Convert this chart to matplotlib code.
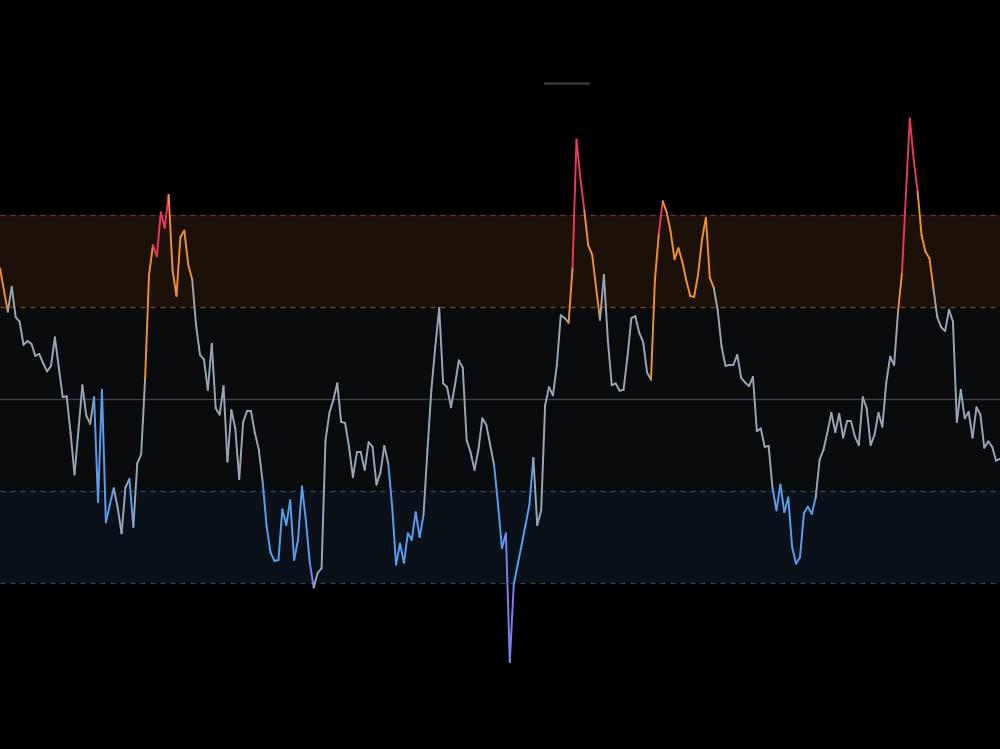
import numpy as np
import matplotlib
matplotlib.use('Agg')
import matplotlib.pyplot as plt
from matplotlib.collections import LineCollection
from matplotlib.lines import Line2D

# ------------------------------------------------------------------
# Data: oscillator values (one per bar)
# ------------------------------------------------------------------
values = [
    64.2, 61.8, 59.5, 62.2, 58.9, 58.4, 55.9, 56.3, 56.0, 54.7,
    54.9, 53.9, 53.0, 53.6, 56.7, 53.4, 50.2, 50.3, 46.3, 41.8,
    46.6, 51.5, 48.2, 47.3, 50.2, 38.8, 51.0, 36.6, 38.5, 40.3,
    38.2, 35.4, 40.4, 41.3, 36.1, 43.0, 44.0, 52.2, 63.5, 66.7,
    65.5, 70.3, 68.6, 72.2, 64.0, 61.2, 67.6, 68.3, 64.6, 63.0,
    58.0, 54.8, 54.3, 51.0, 56.0, 49.0, 48.3, 51.4, 43.2, 48.8,
    46.8, 41.3, 47.5, 48.7, 48.7, 46.3, 44.5, 40.9, 36.1, 33.3,
    32.4, 32.5, 38.0, 36.3, 39.0, 32.5, 34.7, 40.5, 36.8, 32.2,
    29.5, 31.1, 31.6, 45.5, 48.5, 49.9, 51.7, 47.5, 47.4, 44.8,
    41.5, 44.2, 44.2, 42.3, 45.3, 44.8, 40.7, 42.0, 44.9, 43.0,
    38.3, 32.0, 34.3, 32.2, 35.4, 34.7, 37.7, 35.0, 37.4, 44.5,
    51.0, 55.7, 59.9, 51.7, 51.3, 49.1, 51.5, 54.2, 53.4, 45.5,
    44.2, 42.3, 44.5, 47.9, 47.2, 45.0, 42.8, 38.5, 33.8, 35.4,
    21.4, 29.8, 32.0, 34.1, 36.3, 38.5, 43.6, 36.3, 37.9, 49.3,
    51.3, 50.4, 53.7, 59.1, 58.8, 58.3, 64.3, 78.2, 74.0, 70.5,
    66.7, 65.7, 62.1, 58.6, 63.5, 56.4, 51.5, 51.7, 50.9, 51.0,
    54.6, 58.8, 59.0, 57.2, 56.2, 52.9, 52.1, 62.9, 68.0, 71.5,
    70.3, 68.2, 65.2, 66.4, 64.9, 62.9, 61.2, 61.1, 63.5, 67.3,
    69.7, 63.2, 62.1, 59.7, 55.7, 53.6, 53.7, 53.7, 54.8, 52.3,
    51.8, 51.4, 52.4, 46.5, 46.8, 44.8, 44.9, 40.3, 37.9, 40.7,
    37.7, 39.3, 33.9, 32.1, 32.8, 37.6, 38.3, 37.5, 39.3, 43.4,
    44.5, 46.4, 48.5, 46.4, 48.4, 45.8, 47.6, 47.6, 45.9, 45.0,
    50.2, 49.0, 45.0, 46.1, 48.5, 47.0, 51.8, 54.6, 53.7, 59.5,
    63.7, 72.2, 80.5, 76.0, 72.5, 67.8, 66.0, 65.3, 62.1, 58.9,
    57.8, 57.4, 59.7, 58.4, 47.5, 51.0, 47.9, 48.6, 45.8, 49.1,
    48.3, 44.7, 45.4, 44.8, 43.3, 43.5,
]

# colour zones along the line (segment index ranges, inclusive)
piece_start = [0, 2, 24, 29, 33, 34, 37, 39, 43, 49, 67, 79, 80, 99, 108,
               126, 129, 131, 136, 145, 146, 149, 153, 166, 168, 169, 182,
               197, 208, 229, 230, 234, 238]
piece_end   = [1, 23, 28, 32, 33, 36, 38, 42, 48, 66, 78, 79, 98, 107, 125,
               128, 130, 135, 144, 145, 148, 152, 165, 167, 168, 181, 196,
               207, 228, 229, 233, 237, 254]
piece_zone  = ['warm', 'neutral', 'cool', 'neutral', 'cool', 'neutral', 'warm',
               'hot', 'warm', 'neutral', 'cool', 'cold', 'neutral', 'cool',
               'neutral', 'cool', 'cold', 'cool', 'neutral', 'warm', 'hot',
               'warm', 'neutral', 'warm', 'hot', 'warm', 'neutral', 'cool',
               'neutral', 'warm', 'hot', 'warm', 'neutral']

zone_colors = {
    'hot':     '#e8395a',
    'warm':    '#f0912f',
    'neutral': '#9aa6b6',
    'cool':    '#5b9ef0',
    'cold':    '#7f80f2',
}

# ------------------------------------------------------------------
# Figure
# ------------------------------------------------------------------
fig = plt.figure(figsize=(10, 7.49), dpi=100, facecolor='black')
ax = fig.add_axes([0, 0, 1, 1])
ax.set_facecolor('black')

n = len(values)
x = np.arange(n)

# bands
ax.axhspan(60, 70, color='#1c1109', lw=0, zorder=0)
ax.axhspan(40, 60, color='#0a0b0d', lw=0, zorder=0)
ax.axhspan(30, 40, color='#0b1119', lw=0, zorder=0)

# level lines
ax.axhline(70, color='#7a2d38', lw=0.9, ls=(0, (4, 4)), zorder=1)
ax.axhline(60, color='#7d4a22', lw=0.9, ls=(0, (4, 4)), zorder=1)
ax.axhline(50, color='#3a3f48', lw=1.0, zorder=1)
ax.axhline(40, color='#33465f', lw=0.9, ls=(0, (4, 4)), zorder=1)
ax.axhline(30, color='#33465f', lw=0.9, ls=(0, (4, 4)), zorder=1)

# coloured line, one segment per step
seg_colors = [''] * (n - 1)
for s, e, z in zip(piece_start, piece_end, piece_zone):
    for k in range(s, e + 1):
        seg_colors[k] = zone_colors[z]
pts = np.column_stack([x, values])
segs = np.stack([pts[:-1], pts[1:]], axis=1)
lc = LineCollection(segs, colors=seg_colors, linewidths=1.4,
                    capstyle='round', joinstyle='round', zorder=3)
ax.add_collection(lc)

ax.set_xlim(0, n - 1)
ax.set_ylim(11.96, 93.37)
ax.axis('off')

# empty legend marker at the top
fig.add_artist(Line2D([0.545, 0.588], [1 - 83 / 749, 1 - 83 / 749],
                      transform=fig.transFigure, color='#3a3a3a', lw=1.8))

fig.savefig('out.png', dpi=100, facecolor='black')
